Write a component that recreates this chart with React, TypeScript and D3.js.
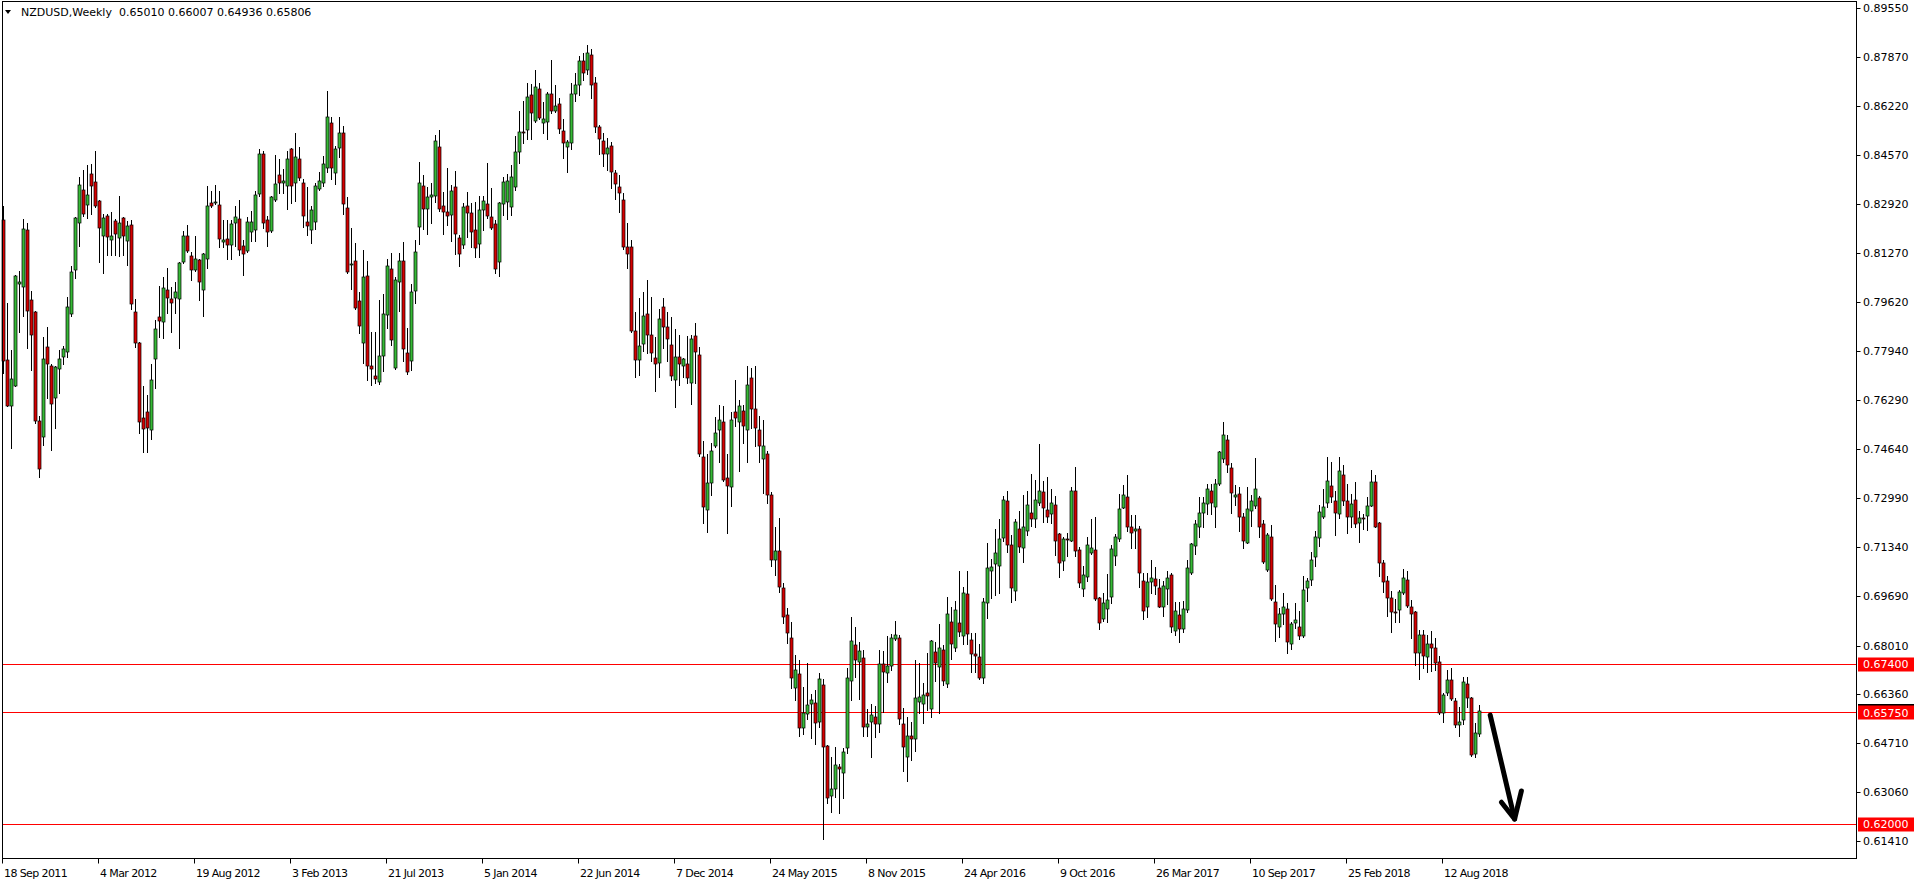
import React from "react";
import * as d3 from "d3";

const symbolTitle = "NZDUSD,Weekly";
const lastQuote = ["0.65010", "0.66007", "0.64936", "0.65806"];

// weekly candles starting 18 Sep 2011 (prices)
const opens = [0.8238,0.7766,0.7608,0.7678,0.8020,0.8013,0.8204,0.7967,0.7926,0.7560,0.7505,0.7808,0.7745,0.7636,0.7736,0.7775,0.7791,0.7919,0.8068,0.8227,0.8339,0.8288,0.8393,0.8365,0.8302,0.8185,0.8252,0.8169,0.8234,0.8176,0.8245,0.8166,0.8220,0.7926,0.7823,0.7569,0.7589,0.7528,0.7768,0.7910,0.7892,0.8001,0.7970,0.7973,0.7970,0.8097,0.8185,0.8115,0.8070,0.8102,0.8001,0.8105,0.8294,0.8294,0.8288,0.8163,0.8173,0.8153,0.8227,0.8241,0.8149,0.8132,0.8198,0.8203,0.8325,0.8461,0.8237,0.8202,0.8304,0.8390,0.8362,0.8352,0.8477,0.8362,0.8444,0.8363,0.8230,0.8203,0.8230,0.8342,0.8362,0.8413,0.8564,0.8397,0.8480,0.8530,0.8277,0.8085,0.8099,0.7964,0.7822,0.8049,0.7743,0.7711,0.7690,0.7779,0.7917,0.8072,0.7739,0.8027,0.8099,0.7788,0.7760,0.7999,0.8215,0.8353,0.8274,0.8315,0.8319,0.8484,0.8285,0.8264,0.8253,0.8348,0.8176,0.8153,0.8285,0.8260,0.8204,0.8156,0.8270,0.8292,0.8249,0.8223,0.8097,0.8290,0.8300,0.8280,0.8350,0.8466,0.8534,0.8540,0.8658,0.8573,0.8679,0.8564,0.8570,0.8662,0.8606,0.8629,0.8538,0.8485,0.8497,0.8662,0.8694,0.8775,0.8744,0.8795,0.8699,0.8550,0.8503,0.8460,0.8488,0.8396,0.8348,0.8304,0.8148,0.8146,0.7862,0.7765,0.7818,0.7920,0.7848,0.7771,0.7755,0.7943,0.7876,0.7816,0.7696,0.7774,0.7743,0.7751,0.7687,0.7847,0.7782,0.7439,0.7257,0.7351,0.7476,0.7529,0.7555,0.7368,0.7335,0.7589,0.7557,0.7593,0.7529,0.7704,0.7599,0.7530,0.7430,0.7447,0.7310,0.7090,0.7120,0.6994,0.6903,0.6825,0.6659,0.6704,0.6521,0.6569,0.6602,0.6606,0.6542,0.6667,0.6462,0.6294,0.6316,0.6391,0.6370,0.6454,0.6681,0.6802,0.6746,0.6759,0.6525,0.6543,0.6559,0.6535,0.6737,0.6707,0.6732,0.6823,0.6825,0.6535,0.6426,0.6496,0.6484,0.6611,0.6605,0.6641,0.6586,0.6778,0.6727,0.6786,0.6671,0.6880,0.6794,0.6876,0.6834,0.6974,0.6818,0.6771,0.6761,0.6690,0.6943,0.7054,0.7075,0.7070,0.7165,0.7289,0.7139,0.6986,0.7193,0.7129,0.7187,0.7247,0.7227,0.7283,0.7318,0.7258,0.7244,0.7274,0.7177,0.7088,0.7159,0.7155,0.7324,0.7123,0.6991,0.7031,0.7115,0.7122,0.6960,0.6889,0.6923,0.6964,0.7104,0.7160,0.7266,0.7301,0.7200,0.7187,0.7196,0.7020,0.6930,0.7016,0.7024,0.6994,0.6930,0.6991,0.7039,0.6851,0.6903,0.6856,0.6921,0.7047,0.7137,0.7200,0.7247,0.7278,0.7322,0.7267,0.7345,0.7429,0.7495,0.7399,0.7301,0.7312,0.7236,0.7148,0.7255,0.7272,0.7298,0.7210,0.7056,0.7168,0.6947,0.6865,0.6906,0.6923,0.6805,0.6876,0.6863,0.6834,0.6994,0.7022,0.7101,0.7163,0.7236,0.7281,0.7340,0.7289,0.7244,0.7377,0.7289,0.7236,0.7292,0.7216,0.7232,0.7239,0.7273,0.7352,0.7213,0.7079,0.7020,0.6960,0.6915,0.6920,0.6977,0.7022,0.6932,0.6913,0.6775,0.6837,0.6761,0.6805,0.6792,0.6746,0.6572,0.6640,0.6685,0.6614,0.6531,0.6548,0.6670,0.6623,0.6435,0.6501];
const highs = [0.8285,0.7957,0.7797,0.8052,0.8064,0.8241,0.8227,0.7998,0.7930,0.7577,0.7841,0.7876,0.7751,0.7745,0.7797,0.7813,0.7979,0.8083,0.8247,0.8384,0.8407,0.8423,0.8426,0.8471,0.8305,0.8258,0.8258,0.8266,0.8241,0.8319,0.8247,0.8235,0.8236,0.7971,0.7825,0.7676,0.7647,0.7752,0.7901,0.8015,0.8045,0.8075,0.8011,0.8028,0.8095,0.8199,0.8221,0.8128,0.8184,0.8105,0.8125,0.8353,0.8336,0.8356,0.8336,0.8238,0.8238,0.8238,0.8285,0.8305,0.8170,0.8247,0.8268,0.8337,0.8477,0.8472,0.8252,0.8317,0.8458,0.8443,0.8409,0.8471,0.8482,0.8530,0.8483,0.8375,0.8350,0.8285,0.8362,0.8399,0.8452,0.8673,0.8584,0.8489,0.8584,0.8555,0.8314,0.8210,0.8159,0.7996,0.8136,0.8099,0.7859,0.7859,0.7968,0.7988,0.8106,0.8125,0.8044,0.8125,0.8164,0.7874,0.8022,0.8170,0.8432,0.8390,0.8350,0.8362,0.8525,0.8541,0.8331,0.8412,0.8356,0.8403,0.8186,0.8294,0.8331,0.8294,0.8300,0.8317,0.8317,0.8429,0.8345,0.8238,0.8297,0.8384,0.8392,0.8423,0.8522,0.8607,0.8639,0.8699,0.8696,0.8744,0.8699,0.8637,0.8670,0.8778,0.8693,0.8650,0.8578,0.8508,0.8699,0.8733,0.8790,0.8800,0.8828,0.8815,0.8720,0.8559,0.8530,0.8514,0.8501,0.8407,0.8390,0.8328,0.8227,0.8169,0.7926,0.7974,0.7994,0.8035,0.7977,0.7844,0.7938,0.7974,0.7926,0.7910,0.7869,0.7849,0.7770,0.7847,0.7850,0.7889,0.7808,0.7492,0.7448,0.7486,0.7574,0.7614,0.7610,0.7448,0.7591,0.7698,0.7630,0.7614,0.7743,0.7737,0.7743,0.7577,0.7563,0.7458,0.7320,0.7200,0.7230,0.7013,0.6926,0.6881,0.6769,0.6752,0.6662,0.6741,0.6637,0.6651,0.6707,0.6687,0.6465,0.6426,0.6460,0.6401,0.6454,0.6724,0.6898,0.6864,0.6814,0.6786,0.6586,0.6604,0.6597,0.6786,0.6784,0.6833,0.6840,0.6884,0.6836,0.6589,0.6559,0.6544,0.6752,0.6741,0.6676,0.6777,0.6820,0.6814,0.6874,0.6803,0.6966,0.6930,0.6951,0.7052,0.7000,0.7052,0.6842,0.6844,0.6806,0.6960,0.7146,0.7092,0.7196,0.7228,0.7306,0.7322,0.7174,0.7228,0.7255,0.7309,0.7322,0.7380,0.7360,0.7483,0.7357,0.7369,0.7328,0.7307,0.7180,0.7168,0.7182,0.7337,0.7402,0.7134,0.7069,0.7166,0.7227,0.7236,0.6964,0.6977,0.7042,0.7142,0.7176,0.7314,0.7343,0.7375,0.7241,0.7241,0.7204,0.7047,0.7047,0.7090,0.7067,0.7024,0.7020,0.7054,0.7045,0.6949,0.6949,0.6951,0.7090,0.7146,0.7225,0.7303,0.7301,0.7345,0.7345,0.7362,0.7459,0.7556,0.7511,0.7416,0.7343,0.7337,0.7249,0.7337,0.7309,0.7433,0.7306,0.7225,0.7180,0.7208,0.7005,0.6926,0.6977,0.6946,0.6881,0.6943,0.6918,0.7034,0.7030,0.7118,0.7188,0.7275,0.7328,0.7436,0.7419,0.7323,0.7436,0.7410,0.7346,0.7313,0.7352,0.7256,0.7244,0.7304,0.7394,0.7377,0.7219,0.7090,0.7036,0.6985,0.6957,0.6989,0.7058,0.7053,0.6955,0.6918,0.6854,0.6854,0.6837,0.6850,0.6825,0.6764,0.6642,0.6719,0.6724,0.6623,0.6593,0.6696,0.6694,0.6626,0.6539,0.6601];
const lows = [0.7720,0.7608,0.7467,0.7676,0.7858,0.7912,0.7805,0.7730,0.7552,0.7370,0.7479,0.7636,0.7460,0.7537,0.7655,0.7750,0.7775,0.7914,0.8041,0.8150,0.8252,0.8243,0.8258,0.8283,0.8097,0.8058,0.8120,0.8120,0.8120,0.8117,0.8120,0.8084,0.7937,0.7808,0.7518,0.7456,0.7454,0.7498,0.7670,0.7842,0.7838,0.7925,0.7859,0.7923,0.7805,0.8094,0.8128,0.8036,0.8066,0.7966,0.7912,0.8077,0.8283,0.8290,0.8148,0.8148,0.8105,0.8105,0.8151,0.8120,0.8051,0.8128,0.8167,0.8168,0.8320,0.8212,0.8151,0.8196,0.8302,0.8329,0.8329,0.8276,0.8294,0.8303,0.8373,0.8213,0.8187,0.8159,0.8207,0.8339,0.8354,0.8401,0.8376,0.8358,0.8451,0.8257,0.8058,0.8004,0.7936,0.7855,0.7756,0.7698,0.7679,0.7686,0.7685,0.7729,0.7874,0.7816,0.7735,0.7932,0.7760,0.7717,0.7731,0.7959,0.8156,0.8206,0.8190,0.8229,0.8300,0.8268,0.8189,0.8221,0.8165,0.8122,0.8082,0.8142,0.8181,0.8148,0.8114,0.8114,0.8204,0.8246,0.8206,0.8058,0.8050,0.8255,0.8240,0.8255,0.8339,0.8431,0.8499,0.8511,0.8511,0.8570,0.8577,0.8530,0.8511,0.8598,0.8603,0.8530,0.8448,0.8398,0.8478,0.8641,0.8658,0.8710,0.8730,0.8649,0.8536,0.8460,0.8421,0.8407,0.8345,0.8308,0.8266,0.8139,0.8075,0.7859,0.7707,0.7713,0.7794,0.7790,0.7763,0.7659,0.7709,0.7805,0.7763,0.7696,0.7606,0.7679,0.7709,0.7687,0.7616,0.7687,0.7441,0.7214,0.7185,0.7310,0.7470,0.7419,0.7355,0.7180,0.7273,0.7541,0.7389,0.7484,0.7419,0.7535,0.7473,0.7419,0.7315,0.7282,0.7070,0.7040,0.6980,0.6878,0.6811,0.6659,0.6617,0.6496,0.6501,0.6552,0.6488,0.6467,0.6525,0.6147,0.6268,0.6240,0.6291,0.6235,0.6287,0.6437,0.6617,0.6696,0.6619,0.6497,0.6497,0.6426,0.6491,0.6508,0.6577,0.6678,0.6718,0.6820,0.6536,0.6379,0.6345,0.6415,0.6446,0.6572,0.6541,0.6583,0.6561,0.6682,0.6572,0.6668,0.6662,0.6755,0.6782,0.6833,0.6806,0.6805,0.6713,0.6713,0.6687,0.6673,0.6893,0.6962,0.6971,0.6977,0.7154,0.7118,0.6949,0.6955,0.7118,0.7084,0.7174,0.7204,0.7202,0.7275,0.7219,0.7219,0.7213,0.7106,0.7033,0.7056,0.7103,0.7154,0.7104,0.7000,0.6969,0.7020,0.7110,0.6955,0.6857,0.6883,0.6881,0.6946,0.7073,0.7154,0.7264,0.7187,0.7131,0.7131,0.7000,0.6889,0.6898,0.6977,0.6975,0.6930,0.6901,0.6940,0.6845,0.6836,0.6814,0.6848,0.6915,0.7042,0.7110,0.7168,0.7202,0.7244,0.7244,0.7200,0.7343,0.7421,0.7388,0.7249,0.7275,0.7189,0.7129,0.7146,0.7204,0.7264,0.7168,0.7081,0.7054,0.6955,0.6817,0.6831,0.6874,0.6777,0.6788,0.6861,0.6822,0.6831,0.6952,0.7005,0.7069,0.7137,0.7233,0.7270,0.7287,0.7174,0.7230,0.7275,0.7182,0.7202,0.7202,0.7152,0.7193,0.7191,0.7272,0.7200,0.7036,0.6983,0.6899,0.6848,0.6879,0.6879,0.6974,0.6932,0.6828,0.6735,0.6687,0.6724,0.6713,0.6715,0.6719,0.6570,0.6542,0.6634,0.6617,0.6527,0.6497,0.6536,0.6595,0.6429,0.6423,0.6494];
const closes = [0.7760,0.7610,0.7700,0.8049,0.8029,0.8207,0.7929,0.7848,0.7560,0.7397,0.7768,0.7751,0.7616,0.7741,0.7769,0.7802,0.7943,0.8061,0.8244,0.8356,0.8259,0.8322,0.8354,0.8286,0.8210,0.8245,0.8180,0.8184,0.8189,0.8228,0.8182,0.8218,0.7953,0.7821,0.7554,0.7533,0.7534,0.7698,0.7869,0.7897,0.8008,0.7973,0.7957,0.7994,0.8092,0.8183,0.8132,0.8068,0.8105,0.8028,0.8122,0.8286,0.8286,0.8297,0.8175,0.8171,0.8153,0.8223,0.8247,0.8136,0.8122,0.8230,0.8230,0.8321,0.8461,0.8227,0.8196,0.8314,0.8358,0.8361,0.8370,0.8444,0.8352,0.8451,0.8379,0.8250,0.8216,0.8271,0.8352,0.8370,0.8427,0.8584,0.8414,0.8477,0.8530,0.8291,0.8061,0.8089,0.7940,0.7881,0.8044,0.7743,0.7735,0.7702,0.7779,0.7919,0.8083,0.7833,0.8035,0.8099,0.7801,0.7724,0.7996,0.8129,0.8362,0.8274,0.8315,0.8321,0.8504,0.8276,0.8264,0.8250,0.8336,0.8189,0.8122,0.8281,0.8262,0.8196,0.8144,0.8270,0.8301,0.8252,0.8210,0.8073,0.8294,0.8365,0.8370,0.8383,0.8466,0.8534,0.8530,0.8652,0.8598,0.8685,0.8581,0.8577,0.8662,0.8606,0.8621,0.8545,0.8497,0.8501,0.8662,0.8694,0.8775,0.8735,0.8800,0.8695,0.8550,0.8510,0.8460,0.8480,0.8399,0.8358,0.8328,0.8148,0.8122,0.7864,0.7765,0.7813,0.7914,0.7848,0.7788,0.7751,0.7903,0.7876,0.7836,0.7712,0.7774,0.7751,0.7768,0.7704,0.7835,0.7791,0.7447,0.7268,0.7349,0.7458,0.7518,0.7563,0.7360,0.7338,0.7563,0.7569,0.7608,0.7541,0.7681,0.7599,0.7537,0.7476,0.7475,0.7310,0.7090,0.7120,0.7000,0.6898,0.6842,0.6690,0.6718,0.6524,0.6574,0.6599,0.6617,0.6538,0.6687,0.6457,0.6285,0.6316,0.6398,0.6383,0.6440,0.6690,0.6816,0.6752,0.6782,0.6525,0.6536,0.6566,0.6535,0.6737,0.6713,0.6732,0.6825,0.6836,0.6552,0.6460,0.6496,0.6484,0.6625,0.6628,0.6634,0.6632,0.6817,0.6743,0.6794,0.6682,0.6907,0.6805,0.6920,0.6845,0.6977,0.6839,0.6771,0.6766,0.6692,0.6949,0.7061,0.7065,0.7115,0.7160,0.7292,0.7142,0.6994,0.7217,0.7135,0.7200,0.7275,0.7227,0.7291,0.7324,0.7264,0.7236,0.7281,0.7155,0.7078,0.7159,0.7157,0.7324,0.7121,0.7013,0.7039,0.7139,0.7129,0.6957,0.6876,0.6943,0.6953,0.7126,0.7166,0.7261,0.7310,0.7200,0.7180,0.7194,0.7045,0.6919,0.7014,0.7028,0.7002,0.6932,0.7002,0.7028,0.6862,0.6917,0.6856,0.6923,0.7061,0.7144,0.7210,0.7247,0.7281,0.7331,0.7281,0.7345,0.7453,0.7511,0.7412,0.7315,0.7309,0.7236,0.7155,0.7261,0.7289,0.7328,0.7202,0.7084,0.7174,0.6958,0.6872,0.6907,0.6930,0.6814,0.6872,0.6886,0.6834,0.6988,0.7019,0.7090,0.7166,0.7253,0.7270,0.7356,0.7301,0.7250,0.7390,0.7290,0.7236,0.7279,0.7211,0.7232,0.7230,0.7272,0.7352,0.7202,0.7081,0.7017,0.6963,0.6915,0.6914,0.6983,0.7028,0.6936,0.6906,0.6775,0.6837,0.6764,0.6805,0.6792,0.6743,0.6572,0.6634,0.6685,0.6621,0.6531,0.6544,0.6677,0.6625,0.6432,0.6505,0.6581];

const priceTicks = [0.8955,0.8787,0.8622,0.8457,0.8292,0.8127,0.7962,0.7794,0.7629,0.7464,0.7299,0.7134,0.6969,0.6801,0.6636,0.6471,0.6306,0.6141];
const dateLabels = ["18 Sep 2011","4 Mar 2012","19 Aug 2012","3 Feb 2013","21 Jul 2013","5 Jan 2014","22 Jun 2014","7 Dec 2014","24 May 2015","8 Nov 2015","24 Apr 2016","9 Oct 2016","26 Mar 2017","10 Sep 2017","25 Feb 2018","12 Aug 2018"];
const dateLabelBars = [0,24,48,72,96,120,144,168,192,216,240,264,288,312,336,360];
const levels = [0.674, 0.6575, 0.62];
const currentPrice = 0.65806;
// hand-drawn arrow in (bar index, price)
const arrowShaft = [[371.8,0.6566],[377.9,0.6215]];
const arrowHead = [[374.6,0.6272],[377.9,0.6215],[379.6,0.6310]];

const W = 1916, H = 884;
const LEFT = 2.5, RIGHT = 1856.5, TOP = 1.5, BOTTOM = 858.5;
const GREEN = "#36b936";
const RED = "#d40000";
const FONT = "'DejaVu Sans', Verdana, sans-serif";

export default function App() {
  const x = d3.scaleLinear().domain([0, 369]).range([3, 1479]);
  const y = d3.scaleLinear().domain([0.8955, 0.6141]).range([7.5, 841]);
  const fmt = (v: number) => v.toFixed(5);
  const line = d3.line<number[]>().x(d => x(d[0])).y(d => y(d[1]));

  const candles = opens.map((o, i) => {
    const c = closes[i];
    const cx = Math.round(x(i));
    const top = y(Math.max(o, c));
    const bot = y(Math.min(o, c));
    const bull = c >= o;
    return (
      <g key={i}>
        <line x1={cx + 0.5} x2={cx + 0.5} y1={Math.round(y(highs[i]))} y2={Math.round(y(lows[i])) + 1} stroke="#000" strokeWidth={1} />
        <rect x={cx - 1} y={Math.round(top)} width={3} height={Math.max(1, Math.round(bot) - Math.round(top))}
          fill={bull ? GREEN : RED} stroke="#000" strokeWidth={0.7} />
      </g>
    );
  });

  return (
    <svg width={W} height={H} style={{ position: "absolute", left: 0, top: 0, background: "#fff" }}
      fontFamily={FONT} fontSize={11}>
      <rect x={0} y={0} width={W} height={H} fill="#fff" />
      {levels.map((lv, i) => (
        <line key={i} x1={LEFT} x2={RIGHT} y1={Math.round(y(lv)) + 0.5} y2={Math.round(y(lv)) + 0.5} stroke="#ff0000" strokeWidth={1} />
      ))}
      {candles}
      <path d={line(arrowShaft as any) || ""} stroke="#000" strokeWidth={5} fill="none" strokeLinecap="round" />
      <path d={line(arrowHead as any) || ""} stroke="#000" strokeWidth={5} fill="none" strokeLinecap="round" strokeLinejoin="round" />
      <rect x={LEFT} y={TOP} width={RIGHT - LEFT} height={BOTTOM - TOP} fill="none" stroke="#000" strokeWidth={1} />
      {/* price axis */}
      {priceTicks.map((p, i) => (
        <g key={i}>
          <line x1={RIGHT} x2={RIGHT + 4} y1={Math.round(y(p)) + 0.5} y2={Math.round(y(p)) + 0.5} stroke="#000" />
          <text x={1863} y={y(p) + 4} fill="#000">{fmt(p)}</text>
        </g>
      ))}
      <rect x={1858} y={Math.round(y(currentPrice)) - 7} width={56} height={14} fill="#000" />
      {levels.map((lv, i) => (
        <g key={i}>
          <rect x={1858} y={Math.round(y(lv)) - 6.5} width={56} height={14} fill="#ff0000" />
          <text x={1863} y={y(lv) + 4.5} fill="#fff">{fmt(lv)}</text>
        </g>
      ))}
      {/* time axis */}
      {dateLabels.map((lab, i) => {
        const xx = Math.round(x(dateLabelBars[i]));
        return (
          <g key={i}>
            <line x1={xx - 0.5} x2={xx - 0.5} y1={BOTTOM} y2={BOTTOM + 5} stroke="#000" />
            <text x={xx + 1} y={877} fill="#000" letterSpacing={-0.6}>{lab}</text>
          </g>
        );
      })}
      {/* header */}
      <path d="M5,10 L11,10 L8,14 Z" fill="#000" />
      <text x={21} y={16} fill="#000" xmlSpace="preserve">{symbolTitle + "  " + lastQuote.join(" ")}</text>
    </svg>
  );
}
